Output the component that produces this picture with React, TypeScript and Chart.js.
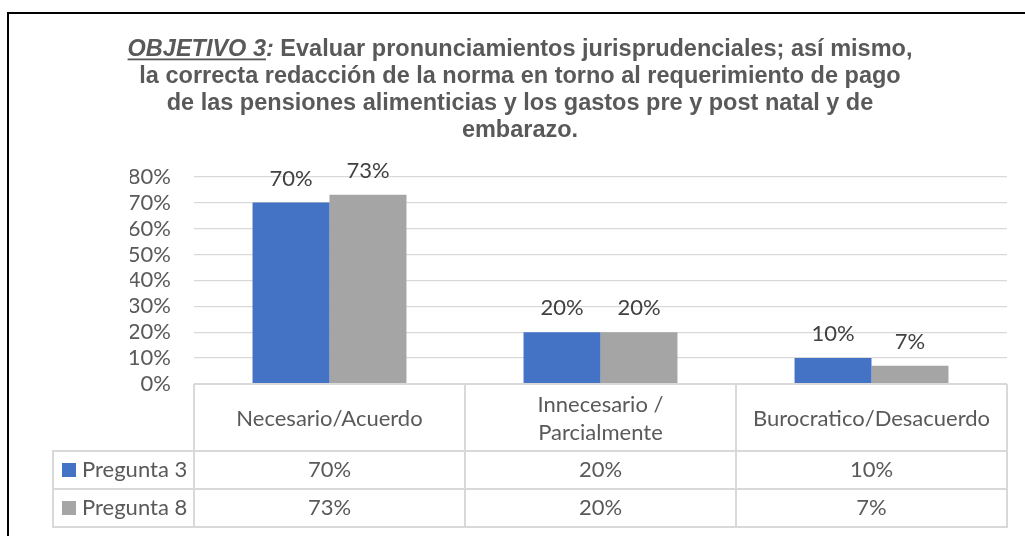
import React, { useEffect, useRef } from "react";
import { Chart, registerables } from "chart.js";

Chart.register(...registerables);

// ---- data ----
const categoryLines: string[][] = [
  ["Necesario/Acuerdo"],
  ["Innecesario /", "Parcialmente"],
  ["Burocratico/Desacuerdo"],
];
const seriesNames = ["Pregunta 3", "Pregunta 8"];
const pregunta3 = [70, 20, 10];
const pregunta8 = [73, 20, 7];
const seriesColors = ["#4472C4", "#A5A5A5"];
const yMin = 0;
const yMax = 80;
const yStep = 10;
const titleLead = "OBJETIVO 3";
const titleColon = ":";
const titleLines = [
  " Evaluar pronunciamientos jurisprudenciales; así mismo,",
  "la correcta redacción de la norma en torno al requerimiento de pago",
  "de las pensiones alimenticias y los gastos pre y post natal y de",
  "embarazo.",
];

const TEXT = "#595959";
const LABEL = "#404040";
const GRID = "#D9D9D9";
const FONT = "Lato";
const FS = 22;
const TFS = 23.5;

const pct = (v: number) => `${v}%`;

const decorPlugin = {
  id: "decor",
  afterDraw(chart: any) {
    const ctx = chart.ctx as CanvasRenderingContext2D;
    const area = chart.chartArea;
    const xs = chart.scales.x;
    ctx.save();

    // outer frame (top & left)
    ctx.fillStyle = "#000000";
    ctx.fillRect(7, 12, chart.width - 7, 2);
    ctx.fillRect(7, 12, 2, chart.height - 12);

    // title
    const cx = 520;
    const baselines = [56, 83, 110, 137];
    const fItal = `italic bold ${TFS}px "Liberation Sans", Arial, sans-serif`;
    const fBold = `bold ${TFS}px "Liberation Sans", Arial, sans-serif`;
    ctx.fillStyle = TEXT;
    ctx.strokeStyle = TEXT;
    ctx.textBaseline = "alphabetic";
    ctx.textAlign = "left";
    ctx.font = fItal;
    const wLead = ctx.measureText(titleLead).width;
    const wColon = ctx.measureText(titleColon).width;
    ctx.font = fBold;
    const wRest = ctx.measureText(titleLines[0]).width;
    let x0 = cx - (wLead + wColon + wRest) / 2;
    ctx.font = fItal;
    ctx.fillText(titleLead, x0, baselines[0]);
    ctx.fillRect(x0, baselines[0] + 2.5, wLead, 1.8);
    ctx.fillText(titleColon, x0 + wLead, baselines[0]);
    ctx.font = fBold;
    ctx.fillText(titleLines[0], x0 + wLead + wColon, baselines[0]);
    ctx.textAlign = "center";
    for (let i = 1; i < titleLines.length; i++) {
      ctx.fillText(titleLines[i], cx, baselines[i]);
    }

    // data labels
    ctx.font = `${FS}px ${FONT}`;
    ctx.fillStyle = LABEL;
    ctx.textAlign = "center";
    ctx.textBaseline = "alphabetic";
    chart.data.datasets.forEach((ds: any, di: number) => {
      const meta = chart.getDatasetMeta(di);
      meta.data.forEach((bar: any, i: number) => {
        ctx.fillText(pct(ds.data[i]), bar.x, bar.y - 17);
      });
    });

    // data table
    const n = categoryLines.length;
    const catW = (area.right - area.left) / n;
    const top = area.bottom;
    const headH = 67;
    const rowH = 38;
    const legendLeft = 53;
    const rows = chart.data.datasets.length;
    const bottom = top + headH + rowH * rows;
    ctx.strokeStyle = GRID;
    ctx.lineWidth = 2;
    ctx.beginPath();
    for (let i = 0; i <= n; i++) {
      const x = Math.round(area.left + catW * i);
      ctx.moveTo(x, top);
      ctx.lineTo(x, bottom);
    }
    ctx.moveTo(legendLeft, top + headH);
    ctx.lineTo(legendLeft, bottom);
    ctx.moveTo(area.left, top);
    ctx.lineTo(area.right, top);
    for (let r = 0; r <= rows; r++) {
      const y = top + headH + rowH * r;
      ctx.moveTo(legendLeft - 1, y);
      ctx.lineTo(area.right + 1, y);
    }
    ctx.stroke();

    ctx.fillStyle = TEXT;
    ctx.textBaseline = "middle";
    ctx.textAlign = "center";
    ctx.font = `${FS}px ${FONT}`;
    for (let i = 0; i < n; i++) {
      const cxl = xs.getPixelForValue(i);
      const lines = categoryLines[i];
      const lh = 28;
      const cy = top + headH / 2 + 1;
      lines.forEach((t, li) => {
        ctx.fillText(t, cxl, cy + (li - (lines.length - 1) / 2) * lh);
      });
    }
    chart.data.datasets.forEach((ds: any, di: number) => {
      const cy = top + headH + rowH * di + rowH / 2;
      ctx.fillStyle = ds.backgroundColor;
      ctx.fillRect(62, cy - 7, 14, 14);
      ctx.fillStyle = TEXT;
      ctx.textAlign = "left";
      ctx.fillText(seriesNames[di], 82, cy);
      ctx.textAlign = "center";
      ds.data.forEach((v: number, i: number) => {
        ctx.fillText(pct(v), xs.getPixelForValue(i), cy);
      });
    });

    ctx.restore();
  },
};

export default function App() {
  const ref = useRef<HTMLCanvasElement | null>(null);
  useEffect(() => {
    if (!ref.current) return;
    const chart = new Chart(ref.current, {
      type: "bar",
      data: {
        labels: categoryLines,
        datasets: [
          {
            label: seriesNames[0],
            data: pregunta3,
            backgroundColor: seriesColors[0],
            categoryPercentage: 0.568,
            barPercentage: 1,
          },
          {
            label: seriesNames[1],
            data: pregunta8,
            backgroundColor: seriesColors[1],
            categoryPercentage: 0.568,
            barPercentage: 1,
          },
        ],
      },
      options: {
        animation: false,
        responsive: false,
        layout: { padding: { left: 130, right: 18, top: 176.7, bottom: 152 } },
        plugins: {
          legend: { display: false },
          title: { display: false },
          tooltip: { enabled: false },
        },
        scales: {
          x: { display: false },
          y: {
            min: yMin,
            max: yMax,
            afterFit: (s: any) => {
              s.width = 64;
            },
            ticks: {
              stepSize: yStep,
              autoSkip: false,
              callback: (v: any) => pct(v),
              color: TEXT,
              font: { family: FONT, size: FS },
              padding: 23,
            },
            grid: { color: GRID, lineWidth: 1.3, drawTicks: false },
            border: { display: false },
          },
        },
      },
      plugins: [decorPlugin],
    });
    return () => chart.destroy();
  }, []);
  return (
    <div style={{ position: "absolute", left: 0, top: 0, width: 1025, height: 536 }}>
      <canvas ref={ref} width={1025} height={536} />
    </div>
  );
}
